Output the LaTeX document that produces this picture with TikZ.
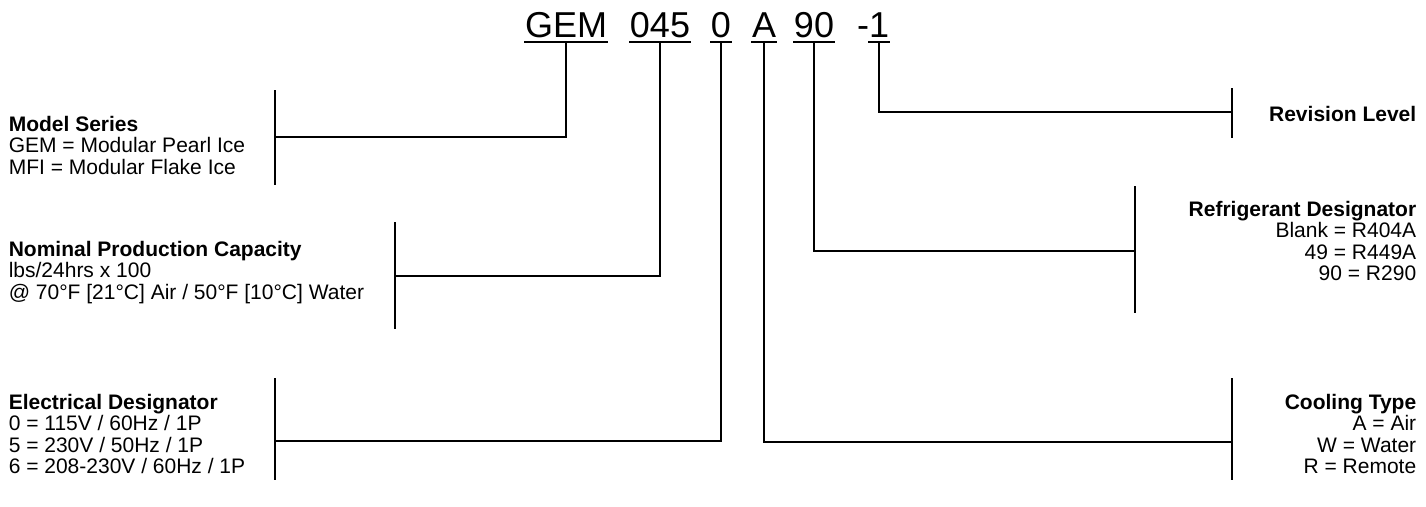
\documentclass[tikz,border=0pt]{standalone}
\usepackage{fontspec}
\setmainfont{Liberation Sans}
\usetikzlibrary{positioning}

\begin{document}
\begin{tikzpicture}[x=1pt,y=-1pt,line width=1.6pt,
    code/.style={font=\fontsize{36}{40}\selectfont,inner sep=0pt,anchor=base,text depth=4pt,
      append after command={(\tikzlastnode.south west) edge[-] (\tikzlastnode.south east)}},
    info/.style={font=\fontsize{21}{21.5}\selectfont,inner sep=0pt,align=left,anchor=north west},
    inforight/.style={info,align=right,anchor=north east}]
    \useasboundingbox (0,0) rectangle (1426,506);

    % model number
    \node[code] (gem) at (566,37) {GEM};
    \node[code] (cap) at (660,37) {045};
    \node[code] (elec) at (721,37) {0};
    \node[code] (cool) at (764,37) {A};
    \node[code] (refr) at (814,37) {90};
    \node[code] (rev) at (879,37) {1};
    \node[font=\fontsize{36}{40}\selectfont,inner sep=0pt,anchor=base east] (dash) at (870,37) {-};

    % descriptions
    \node[info] (ms) at (8,115) {\textbf{Model Series}\\GEM = Modular Pearl Ice\\MFI = Modular Flake Ice};
    \node[info] (npc) at (8,240) {\textbf{Nominal Production Capacity}\\lbs/24hrs x 100\\@ 70°F [21°C] Air / 50°F [10°C] Water};
    \node[info] (ed) at (8,393) {\textbf{Electrical Designator}\\0 = 115V / 60Hz / 1P\\5 = 230V / 50Hz / 1P\\6 = 208-230V / 60Hz / 1P};
    \node[inforight] (rl) at (1417,105) {\textbf{Revision Level}};
    \node[inforight] (rd) at (1417,200) {\textbf{Refrigerant Designator}\\Blank = R404A\\49 = R449A\\90 = R290};
    \node[inforight] (ct) at (1417,393) {\textbf{Cooling Type}\\A = Air\\W = Water\\R = Remote};

    % brackets
    \coordinate (msbar) at (275,137);
    \coordinate (npcbar) at (395,276);
    \coordinate (edbar) at (275,441);
    \coordinate (rlbar) at (1232,112);
    \coordinate (rdbar) at (1135,251);
    \coordinate (ctbar) at (1232,442);
    \draw (275,90) -- (275,185);
    \draw (395,222) -- (395,329);
    \draw (275,378) -- (275,480);
    \draw (1232,88) -- (1232,138);
    \draw (1135,186) -- (1135,313);
    \draw (1232,378) -- (1232,480);

    % leaders
    \draw (gem.south) |- (msbar);
    \draw (cap.south) |- (npcbar);
    \draw (elec.south) |- (edbar);
    \draw (cool.south) |- (ctbar);
    \draw (refr.south) |- (rdbar);
    \draw (rev.south) |- (rlbar);
\end{tikzpicture}
\end{document}
